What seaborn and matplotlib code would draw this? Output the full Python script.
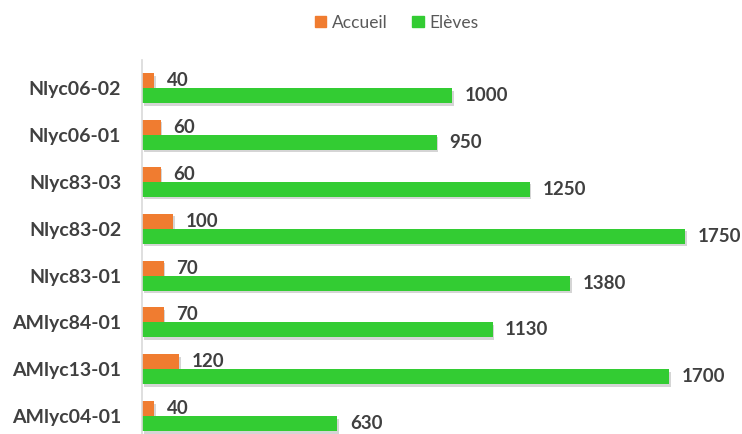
import matplotlib
matplotlib.use("Agg")
import matplotlib.pyplot as plt
import matplotlib.patheffects as pe
import seaborn as sns
import pandas as pd

categories = ["Nlyc06-02", "Nlyc06-01", "Nlyc83-03", "Nlyc83-02",
              "Nlyc83-01", "AMlyc84-01", "AMlyc13-01", "AMlyc04-01"]
accueil = [40, 60, 60, 100, 70, 70, 120, 40]
eleves = [1000, 950, 1250, 1750, 1380, 1130, 1700, 630]
series = ["Accueil", "Elèves"]
colors = ["#F07C30", "#33CC33"]

df = pd.DataFrame({
    "site": categories * 2,
    "valeur": accueil + eleves,
    "serie": [series[0]] * len(categories) + [series[1]] * len(categories),
})

sns.set_style("white")
plt.rcParams["font.family"] = ["Lato", "DejaVu Sans"]

fig = plt.figure(figsize=(7.42, 4.34), dpi=100)
ax = fig.add_axes([142 / 742, 0.0, 600 / 742, 374 / 434])

sns.barplot(data=df, y="site", x="valeur", hue="serie", order=categories,
            hue_order=series, palette=colors, width=0.64, orient="h",
            ax=ax, legend=False, saturation=1)

shadow = [pe.SimplePatchShadow(offset=(1.2, -1.8), alpha=0.22, shadow_rgbFace="#444444"),
          pe.Normal()]
for patch in ax.patches:
    patch.set_path_effects(shadow)
    patch.set_edgecolor("none")

for cont in ax.containers:
    ax.bar_label(cont, padding=9, fontsize=13.5, fontweight="bold", color="#404040")

ax.set_xlim(0, 1934)
ax.set_ylim(7.38, -0.6)
ax.set_xlabel("")
ax.set_ylabel("")
ax.set_xticks([])
for side in ["top", "right", "bottom"]:
    ax.spines[side].set_visible(False)
ax.spines["left"].set_color("#D9D9D9")
ax.spines["left"].set_linewidth(1.2)
ax.tick_params(axis="y", length=0, pad=15)
for lab in ax.get_yticklabels():
    lab.set_fontsize(14)
    lab.set_fontweight("bold")
    lab.set_color("#404040")

handles = [plt.Rectangle((0, 0), 1, 1, color=c) for c in colors]
fig.legend(handles, series, loc="center", bbox_to_anchor=(0.535, 0.948), ncol=2,
           frameon=False, fontsize=12.5, handlelength=0.65, handleheight=0.65,
           handletextpad=0.35, columnspacing=1.4, labelcolor="#595959")

fig.savefig("out.png", dpi=100)
